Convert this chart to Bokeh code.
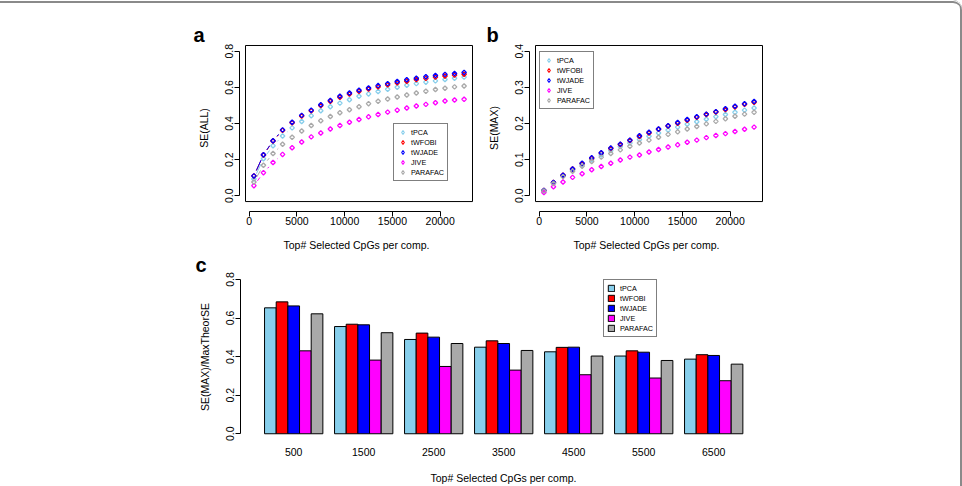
import numpy as np
from bokeh.plotting import figure
from bokeh.layouts import column, row
from bokeh.models import (Range1d, FixedTicker, PrintfTickFormatter, BasicTickFormatter,
                          BoxAnnotation, Legend, LegendItem, Label)
from bokeh.embed import file_html
from bokeh.resources import INLINE

# ---------------------------------------------------------------- data
methods = ["tPCA", "tWFOBI", "tWJADE", "JIVE", "PARAFAC"]
colors = ["#87CEEB", "#FF0000", "#0000FF", "#FF00FF", "#A9A9A9"]

top_n = [500, 1500, 2500, 3500, 4500, 5500, 6500, 7500, 8500, 9500, 10500, 11500,
         12500, 13500, 14500, 15500, 16500, 17500, 18500, 19500, 20500, 21500, 22500]

# SE(ALL)
se_all_tpca = [0.093, 0.205, 0.277, 0.331, 0.376, 0.411, 0.443, 0.471, 0.493, 0.513, 0.532, 0.551,
               0.564, 0.577, 0.590, 0.601, 0.612, 0.621, 0.629, 0.636, 0.644, 0.651, 0.657]
se_all_twfobi = [0.110, 0.226, 0.303, 0.362, 0.404, 0.441, 0.470, 0.499, 0.523, 0.545, 0.563, 0.578,
                 0.591, 0.603, 0.614, 0.625, 0.634, 0.643, 0.650, 0.657, 0.663, 0.668, 0.673]
se_all_twjade = [0.110, 0.227, 0.305, 0.365, 0.407, 0.445, 0.474, 0.504, 0.528, 0.551, 0.569, 0.584,
                 0.597, 0.610, 0.621, 0.633, 0.642, 0.651, 0.659, 0.666, 0.672, 0.677, 0.683]
se_all_jive = [0.056, 0.128, 0.184, 0.229, 0.266, 0.298, 0.326, 0.348, 0.370, 0.389, 0.407, 0.422,
               0.437, 0.450, 0.463, 0.474, 0.486, 0.497, 0.506, 0.515, 0.525, 0.530, 0.534]
se_all_parafac = [0.076, 0.169, 0.234, 0.285, 0.324, 0.359, 0.389, 0.415, 0.439, 0.460, 0.476, 0.493,
                  0.510, 0.523, 0.536, 0.547, 0.558, 0.569, 0.579, 0.588, 0.595, 0.603, 0.608]

# SE(MAX)
se_max_tpca = [0.014, 0.035, 0.055, 0.071, 0.086, 0.100, 0.113, 0.125, 0.136, 0.146, 0.156, 0.165,
               0.174, 0.182, 0.190, 0.198, 0.205, 0.212, 0.219, 0.225, 0.231, 0.237, 0.243]
se_max_twfobi = [0.015, 0.037, 0.057, 0.074, 0.089, 0.104, 0.118, 0.131, 0.142, 0.153, 0.164, 0.174,
                 0.184, 0.193, 0.201, 0.209, 0.217, 0.225, 0.232, 0.239, 0.246, 0.253, 0.259]
se_max_twjade = [0.015, 0.037, 0.057, 0.074, 0.090, 0.105, 0.119, 0.132, 0.143, 0.154, 0.166, 0.176,
                 0.185, 0.194, 0.203, 0.211, 0.219, 0.226, 0.233, 0.241, 0.248, 0.255, 0.261]
se_max_jive = [0.009, 0.025, 0.038, 0.051, 0.061, 0.072, 0.081, 0.090, 0.099, 0.107, 0.113, 0.121,
               0.128, 0.135, 0.141, 0.148, 0.154, 0.161, 0.167, 0.172, 0.178, 0.184, 0.190]
se_max_parafac = [0.013, 0.034, 0.053, 0.068, 0.082, 0.095, 0.107, 0.117, 0.127, 0.137, 0.146, 0.154,
                  0.162, 0.170, 0.177, 0.185, 0.192, 0.199, 0.206, 0.213, 0.220, 0.226, 0.231]

# SE(MAX)/MaxTheorSE
bar_groups = ["500", "1500", "2500", "3500", "4500", "5500", "6500"]
ratio_tpca = [0.653, 0.556, 0.489, 0.449, 0.425, 0.403, 0.387]
ratio_twfobi = [0.684, 0.568, 0.522, 0.482, 0.448, 0.430, 0.410]
ratio_twjade = [0.663, 0.565, 0.501, 0.468, 0.449, 0.423, 0.406]
ratio_jive = [0.430, 0.382, 0.349, 0.330, 0.306, 0.289, 0.275]
ratio_parafac = [0.622, 0.524, 0.468, 0.432, 0.403, 0.380, 0.361]

x_ticks = [0, 5000, 10000, 15000, 20000]
x_title = "Top# Selected CpGs per comp."

FONT = "Liberation Sans"
TICK_PX = "10.5px"
LEG_PX = "7.2px"
GAP_PX = 6.0          # gap left around each point by the joining lines
ROW1_H = 253          # height of the top row (panels a and b)
FRAME_TOP, FRAME_H = 44, 168


def style_axis(ax, label, standoff, title_standoff, vertical=False):
    ax.axis_label = label
    ax.axis_label_text_font = FONT
    ax.axis_label_text_font_size = TICK_PX
    ax.axis_label_text_font_style = "normal"
    ax.axis_label_text_color = "black"
    ax.axis_label_standoff = title_standoff
    ax.major_label_text_font = FONT
    ax.major_label_text_font_size = TICK_PX
    ax.major_label_text_color = "black"
    ax.major_label_standoff = standoff
    ax.major_tick_out = 5
    ax.major_tick_in = 0
    ax.minor_tick_line_color = None
    ax.axis_line_color = "black"
    ax.major_tick_line_color = "black"
    if vertical:
        ax.major_label_orientation = "vertical"


def panel_letter(text, x, y):
    # placed in a side panel so it is not clipped to the plot frame
    return Label(x=x, y=y, x_units="screen", y_units="screen", text=text,
                 text_font=FONT, text_font_size="20px", text_font_style="bold",
                 text_color="black", text_baseline="alphabetic", text_align="left")


def scatter_panel(series, y_max, y_step, y_title, width, left):
    frame_w = 234
    box_w, box_h = 227, 157
    x_lo = min(top_n) - 0.04 * (max(top_n) - min(top_n))
    x_hi = max(top_n) + 0.04 * (max(top_n) - min(top_n))
    y_lo, y_hi = -0.04 * y_max, 1.04 * y_max
    ux = (x_hi - x_lo) / box_w
    uy = (y_hi - y_lo) / box_h
    xr = Range1d(x_lo - 6 * ux, x_hi + 1 * ux)
    yr = Range1d(y_lo - 10 * uy, y_hi + 1 * uy)

    p = figure(width=width, height=ROW1_H, x_range=xr, y_range=yr,
               output_backend="svg", toolbar_location=None,
               min_border_left=left, min_border_right=width - left - frame_w,
               min_border_top=FRAME_TOP, min_border_bottom=ROW1_H - FRAME_TOP - FRAME_H)
    p.outline_line_color = None
    p.grid.visible = False
    p.border_fill_color = None
    p.background_fill_color = None

    p.add_layout(BoxAnnotation(left=x_lo, right=x_hi, bottom=y_lo, top=y_hi,
                               fill_color=None, fill_alpha=0,
                               line_color="black", line_width=1, line_alpha=1))

    # joining lines, drawn only where the gap around the points leaves room
    sx = 1.0 / ux
    sy = 1.0 / uy
    for vals, col in zip(series, colors):
        x0s, y0s, x1s, y1s = [], [], [], []
        for i in range(len(top_n) - 1):
            dx, dy = top_n[i + 1] - top_n[i], vals[i + 1] - vals[i]
            length = np.hypot(dx * sx, dy * sy)
            if length > 2 * GAP_PX + 0.5:
                t = GAP_PX / length
                x0s.append(top_n[i] + dx * t)
                y0s.append(vals[i] + dy * t)
                x1s.append(top_n[i + 1] - dx * t)
                y1s.append(vals[i + 1] - dy * t)
        if x0s:
            p.segment(x0s, y0s, x1s, y1s, line_color=col, line_width=1)

    items = []
    for vals, col, name in zip(series, colors, methods):
        p.scatter(top_n, vals, marker="square", angle=np.pi / 4, size=3.2,
                  fill_color=None, line_color=col, line_width=1.3)
        # legend key: an upright diamond of the same colour
        key = p.scatter(top_n[:1], vals[:1], marker="diamond", size=5,
                        fill_color=None, line_color=col, line_width=1.1, visible=False)
        items.append(LegendItem(label=name, renderers=[key]))

    p.xaxis.ticker = FixedTicker(ticks=x_ticks)
    p.xaxis.bounds = (x_ticks[0], x_ticks[-1])
    p.xaxis.formatter = BasicTickFormatter(use_scientific=False)
    style_axis(p.xaxis[0], x_title, 0, 11)

    y_ticks = [round(k * y_step, 3) for k in range(int(round(y_max / y_step)) + 1)]
    p.yaxis.ticker = FixedTicker(ticks=y_ticks)
    p.yaxis.bounds = (0, y_max)
    p.yaxis.formatter = PrintfTickFormatter(format="%.1f")
    style_axis(p.yaxis[0], y_title, 1, 13, vertical=True)
    return p, items


def add_legend(p, items, loc, glyph_w, glyph_h, standoff):
    leg = Legend(items=items, location=loc, orientation="vertical",
                 glyph_width=glyph_w, glyph_height=glyph_h, label_height=10,
                 label_width=10, spacing=0, padding=3, margin=0,
                 label_standoff=standoff, label_text_font=FONT,
                 label_text_font_size=LEG_PX, label_text_color="black",
                 border_line_color="black", border_line_width=1,
                 background_fill_color="white", background_fill_alpha=1,
                 click_policy="none")
    p.add_layout(leg)


series_a = [se_all_tpca, se_all_twfobi, se_all_twjade, se_all_jive, se_all_parafac]
series_b = [se_max_tpca, se_max_twfobi, se_max_twjade, se_max_jive, se_max_parafac]

pa, items_a = scatter_panel(series_a, 0.8, 0.2, "SE(ALL)", 480, 239)
add_legend(pa, items_a, (154, 30), 11, 10, 3)
pa.add_layout(panel_letter("a", -46, 9.5), "above")

pb, items_b = scatter_panel(series_b, 0.4, 0.1, "SE(MAX)", 482, 49)
add_legend(pb, items_b, (10, 102), 11, 10, 3)
pb.add_layout(panel_letter("b", -43, 9.5), "above")

# ---------------------------------------------------------------- panel c
c_h = 486 - ROW1_H
c_top = 273 - ROW1_H
c_left, c_frame_w, c_frame_h = 240, 526, 167
n_groups = len(bar_groups)
c_pad = 0.26
pc = figure(width=962, height=c_h,
            x_range=Range1d(-c_pad, -c_pad + c_frame_w / 70.0),
            y_range=Range1d(-0.035, 0.8 + 6 / 192.9),
            output_backend="svg", toolbar_location=None,
            min_border_left=c_left, min_border_right=962 - c_left - c_frame_w,
            min_border_top=c_top, min_border_bottom=c_h - c_top - c_frame_h)
pc.outline_line_color = None
pc.grid.visible = False
pc.border_fill_color = None
pc.background_fill_color = None

ratios = [ratio_tpca, ratio_twfobi, ratio_twjade, ratio_jive, ratio_parafac]
bar_w = 1.0 / (len(methods) + 1)
items_c = []
for j, (vals, col, name) in enumerate(zip(ratios, colors, methods)):
    xs = [g + 0.5 + (j - (len(methods) - 1) / 2) * bar_w for g in range(n_groups)]
    r = pc.vbar(x=xs, top=vals, bottom=0, width=bar_w, fill_color=col,
                line_color="black", line_width=1)
    items_c.append(LegendItem(label=name, renderers=[r]))

pc.xaxis.ticker = FixedTicker(ticks=[g + 0.5 for g in range(n_groups)])
pc.xaxis.major_label_overrides = {g + 0.5: lab for g, lab in enumerate(bar_groups)}
style_axis(pc.xaxis[0], x_title, 7, 13)
pc.xaxis.axis_line_color = None
pc.xaxis.major_tick_line_color = None
pc.xaxis.major_tick_out = 0

pc.yaxis.ticker = FixedTicker(ticks=[0, 0.2, 0.4, 0.6, 0.8])
pc.yaxis.bounds = (0, 0.8)
pc.yaxis.formatter = PrintfTickFormatter(format="%.1f")
style_axis(pc.yaxis[0], "SE(MAX)/MaxTheorSE", 1, 13, vertical=True)

add_legend(pc, items_c, (363, 103), 8, 8, 5)
pc.add_layout(panel_letter("c", -571, 176), "right")

layout = column(row(pa, pb), pc,
                styles={"box-shadow": "inset 0 1px 0 0 #ffffff, inset 0 3px 0 0 #8a8a8a, "
                                      "inset -2px 0 0 0 #8a8a8a",
                        "border-top-right-radius": "9px",
                        "background-color": "white"})

open("out.html", "w").write(file_html(layout, INLINE))
